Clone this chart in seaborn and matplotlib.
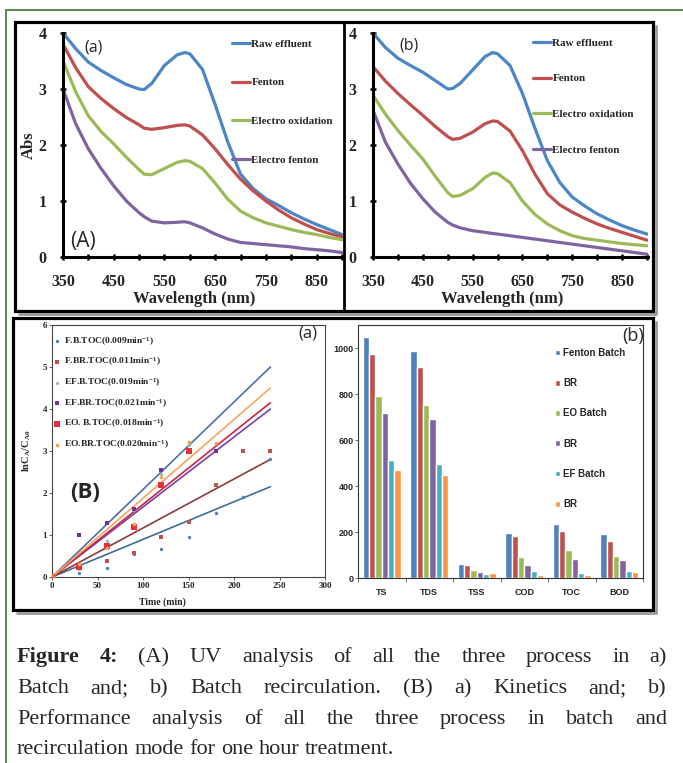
import matplotlib
matplotlib.use("Agg")
import matplotlib.pyplot as plt
import numpy as np
import pandas as pd
import seaborn as sns
from matplotlib.lines import Line2D
from matplotlib.patches import Rectangle
from matplotlib.ticker import FixedLocator

W, H = 683, 763
SERIF = "Liberation Serif"
SANS = "Liberation Sans"
LABEL_FONT = "Open Sans"

# ---- UV spectra (Abs vs wavelength) ----
wavelength = [350, 375, 400, 425, 450, 475, 500, 510, 525, 550, 575, 590, 600,
              625, 650, 675, 700, 725, 750, 775, 800, 825, 850, 875, 900]
raw_batch = [4.0, 3.72, 3.48, 3.33, 3.2, 3.08, 3.0, 2.99, 3.1, 3.42, 3.61, 3.65, 3.63,
             3.35, 2.72, 2.05, 1.48, 1.22, 1.04, 0.92, 0.79, 0.68, 0.58, 0.49, 0.40]
fenton_batch_uv = [3.8, 3.38, 3.04, 2.83, 2.65, 2.49, 2.36, 2.3, 2.28, 2.31, 2.35, 2.36, 2.34,
                   2.18, 1.93, 1.65, 1.39, 1.18, 1.0, 0.84, 0.70, 0.59, 0.49, 0.42, 0.36]
eo_batch_uv = [3.5, 2.95, 2.52, 2.24, 2.02, 1.78, 1.56, 1.48, 1.47, 1.58, 1.69, 1.72, 1.71,
               1.58, 1.32, 1.03, 0.82, 0.70, 0.61, 0.55, 0.49, 0.44, 0.40, 0.35, 0.31]
ef_batch_uv = [3.0, 2.38, 1.93, 1.58, 1.27, 1.0, 0.79, 0.72, 0.64, 0.61, 0.62, 0.63, 0.61,
               0.52, 0.41, 0.32, 0.26, 0.24, 0.22, 0.20, 0.18, 0.15, 0.13, 0.11, 0.08]

raw_recirc = [4.0, 3.74, 3.55, 3.42, 3.3, 3.15, 3.0, 3.01, 3.1, 3.34, 3.58, 3.65, 3.63,
              3.42, 2.92, 2.3, 1.72, 1.33, 1.07, 0.91, 0.77, 0.66, 0.56, 0.48, 0.41]
fenton_recirc_uv = [3.4, 3.14, 2.92, 2.72, 2.53, 2.33, 2.15, 2.1, 2.12, 2.23, 2.38, 2.43, 2.42,
                    2.25, 1.9, 1.48, 1.13, 0.93, 0.80, 0.69, 0.59, 0.51, 0.44, 0.37, 0.30]
eo_recirc_uv = [2.89, 2.55, 2.26, 2.0, 1.75, 1.44, 1.15, 1.08, 1.1, 1.22, 1.42, 1.5, 1.49,
                1.33, 1.0, 0.76, 0.59, 0.47, 0.38, 0.33, 0.30, 0.27, 0.24, 0.22, 0.20]
ef_recirc_uv = [2.62, 2.05, 1.66, 1.32, 1.04, 0.8, 0.62, 0.57, 0.52, 0.47, 0.44, 0.42, 0.41,
                0.38, 0.35, 0.32, 0.29, 0.26, 0.23, 0.20, 0.17, 0.14, 0.11, 0.08, 0.05]

uv_labels = ["Raw effluent", "Fenton", "Electro oxidation", "Electro fenton"]
uv_colors = ["#4a86c8", "#c0504d", "#9bbb59", "#8064a2"]

# ---- kinetics ----
kin_time = [0, 30, 60, 90, 120, 150, 180, 210, 240]
fb_toc = [0, 0.10, 0.22, 0.55, 0.67, 0.96, 1.52, 1.90, 2.80]
fbr_toc = [0, 0.24, 0.38, 0.58, 0.96, 1.30, 2.20, 3.00, 3.00]
efb_toc = [0, 0.20, 0.85, 1.60, 2.45, 3.15, 3.20, np.nan, np.nan]
efbr_toc = [0, 1.00, 1.28, 1.63, 2.55, 3.00, 3.00, np.nan, np.nan]
eob_toc = [0, 0.25, 0.73, 1.20, 2.20, 3.00, np.nan, np.nan, np.nan]
eobr_toc = [0, 0.30, 0.70, 1.27, 2.38, 3.22, 3.20, np.nan, np.nan]
kin_series = [fb_toc, fbr_toc, efb_toc, efbr_toc, eob_toc, eobr_toc]
kin_labels = ["F.B.TOC(0.009min$^{-1}$)", "F.BR.TOC(0.011min$^{-1}$)",
              "EF.B.TOC(0.019min$^{-1}$)", "EF.BR.TOC(0.021min$^{-1}$)",
              "EO. B.TOC(0.018min$^{-1}$)", "EO.BR.TOC(0.020min$^{-1}$)"]
fit_time = [0, 240]
fit_end = [2.15, 2.80, 5.00, 4.00, 4.15, 4.50]
kin_marker_colors = ["#4f81bd", "#c0504d", "#93b4b8", "#7030a0", "#e8303c", "#f5a04a"]
kin_line_colors = ["#3a6f96", "#8c3b3b", "#4a70aa", "#7a40b0", "#c8283c", "#f5a65b"]
kin_markers = ["o", "s", "o", "s", "s", "o"]
kin_sizes = [6, 12, 5, 10, 14, 7]

# ---- performance ----
params = ["TS", "TDS", "TSS", "COD", "TOC", "BOD"]
fenton_batch = [1050, 988, 61, 196, 235, 191]
fenton_br = [974, 916, 55, 184, 203, 162]
eo_batch = [790, 754, 36, 91, 123, 94]
eo_br = [717, 691, 28, 55, 83, 77]
ef_batch = [514, 496, 19, 29, 22, 32]
ef_br = [468, 446, 22, 14, 12, 26]
bar_keys = ["Fenton Batch", "Fenton BR", "EO Batch", "EO BR", "EF Batch", "EF BR"]
bar_labels = ["Fenton Batch", "BR", "EO Batch", "BR", "EF Batch", "BR"]
bar_colors = ["#4f81bd", "#c0504d", "#9bbb59", "#8064a2", "#4bacc6", "#f79646"]

caption = [
    [("Figure", True), ("4:", True), ("(A)", False), ("UV", False), ("analysis", False),
     ("of", False), ("all", False), ("the", False), ("three", False), ("process", False),
     ("in", False), ("a)", False)],
    [(w, False) for w in "Batch and; b) Batch recirculation. (B) a) Kinetics and; b)".split()],
    [(w, False) for w in "Performance analysis of all the three process in batch and".split()],
    [(w, False) for w in "recirculation mode for one hour treatment.".split()],
]

sns.set_theme(style="white")
plt.rcParams["font.family"] = [SERIF, "DejaVu Serif"]
plt.rcParams["mathtext.fontset"] = "custom"
plt.rcParams["mathtext.rm"] = SERIF + ":bold"
plt.rcParams["mathtext.it"] = SERIF + ":bold"
plt.rcParams["mathtext.bf"] = SERIF + ":bold"

fig = plt.figure(figsize=(W / 100, H / 100), dpi=100)
fig.patch.set_facecolor("white")


def px_axes(l, t, r, b):
    return fig.add_axes([l / W, 1 - b / H, (r - l) / W, (b - t) / H])


def fig_line(xs, ys, **kw):
    fig.add_artist(Line2D([x / W for x in xs], [1 - y / H for y in ys],
                          transform=fig.transFigure, **kw))


def uv_panel(ax, series, legend_xy, spacing, show_ylabel):
    rows = [(w, v, lab) for lab, vals in zip(uv_labels, series)
            for w, v in zip(wavelength, vals)]
    df = pd.DataFrame(rows, columns=["wl", "abs", "sample"])
    sns.lineplot(data=df, x="wl", y="abs", hue="sample", hue_order=uv_labels,
                 palette=uv_colors, lw=2.3, estimator=None, sort=False, ax=ax)
    ax.set_xlim(350, 902)
    ax.set_ylim(0, 4)
    ax.xaxis.set_major_locator(FixedLocator(range(350, 901, 100)))
    ax.xaxis.set_minor_locator(FixedLocator(range(400, 901, 100)))
    ax.set_yticks(range(0, 5))
    for s in ["top", "right"]:
        ax.spines[s].set_visible(False)
    for s in ["left", "bottom"]:
        ax.spines[s].set_color("black")
        ax.spines[s].set_linewidth(2.2)
    ax.tick_params(which="both", direction="inout", length=5, width=1.8,
                   color="black", pad=9.5, bottom=True, left=True)
    for lab in ax.get_xticklabels() + ax.get_yticklabels():
        lab.set_fontsize(11.5)
        lab.set_fontweight("bold")
        lab.set_family(SERIF)
    ax.set_xlabel("Wavelength (nm)", fontsize=12, fontweight="bold", family=SERIF)
    ax.xaxis.set_label_coords(0.47, -0.15)
    if show_ylabel:
        ax.set_ylabel("Abs", fontsize=12, fontweight="bold", family=SERIF)
        ax.yaxis.set_label_coords(-0.095, 0.5)
    else:
        ax.set_ylabel("")
    ax.legend(loc="upper left", bbox_to_anchor=(legend_xy[0] / W, 1 - legend_xy[1] / H),
              bbox_transform=fig.transFigure, frameon=False, borderpad=0,
              borderaxespad=0, handlelength=1.6, handletextpad=0.15,
              labelspacing=spacing,
              prop=dict(family=SERIF, weight="bold", size=8))


# ---------- top UV panels ----------
ax_a = px_axes(63, 33, 343, 257)
uv_panel(ax_a, [raw_batch, fenton_batch_uv, eo_batch_uv, ef_batch_uv], (232, 39), 2.6, True)
fig.text(70 / W, 1 - 242 / H, "(A)", fontsize=15, family=LABEL_FONT, va="center")
fig.text(84 / W, 1 - 47 / H, "(a)", fontsize=11.5, family=LABEL_FONT, va="center")

ax_b = px_axes(373, 33, 648, 257)
uv_panel(ax_b, [raw_recirc, fenton_recirc_uv, eo_recirc_uv, ef_recirc_uv], (533, 38), 2.33, False)
fig.text(399 / W, 1 - 46 / H, "(b)", fontsize=11.5, family=LABEL_FONT, va="center")

# ---------- kinetics ----------
ax_k = px_axes(52, 325, 325, 577)
for vals, lab, mc, mk, sz in zip(kin_series, kin_labels, kin_marker_colors, kin_markers, kin_sizes):
    df = pd.DataFrame({"time": kin_time, "toc": vals}).dropna()
    sns.scatterplot(data=df, x="time", y="toc", color=mc, marker=mk, s=sz,
                    linewidth=0, label=lab, ax=ax_k, zorder=3)
for end, lc in zip(fit_end, kin_line_colors):
    df = pd.DataFrame({"time": fit_time, "toc": [0, end]})
    sns.lineplot(data=df, x="time", y="toc", color=lc, lw=1.2, legend=False, ax=ax_k)
ax_k.scatter([0], [0], s=14, color="#e07a3a", zorder=4)
ax_k.set_xlim(0, 300)
ax_k.set_ylim(0, 6)
ax_k.set_xticks(range(0, 301, 50))
ax_k.set_yticks(range(0, 7))
for s in ax_k.spines.values():
    s.set_color("#444444")
    s.set_linewidth(0.8)
ax_k.tick_params(direction="out", length=2, width=0.6, color="#444444", pad=1.5,
                 bottom=True, left=True)
for lab in ax_k.get_xticklabels() + ax_k.get_yticklabels():
    lab.set_fontsize(6.5)
    lab.set_fontweight("bold")
ax_k.set_xlabel("Time (min)", fontsize=7, fontweight="bold")
ax_k.xaxis.set_label_coords(0.405, -0.082)
ax_k.set_ylabel("lnC$_{\\mathrm{A}}$/C$_{\\mathrm{A0}}$", fontsize=7.5, fontweight="bold")
ax_k.yaxis.set_label_coords(-0.07, 0.5)
ax_k.legend(loc="upper left", bbox_to_anchor=(55 / W, 1 - 335 / H),
            bbox_transform=fig.transFigure, frameon=False, borderpad=0,
            borderaxespad=0, handlelength=0.5, handletextpad=0.4,
            labelspacing=0.85, markerscale=1.0,
            prop=dict(family=SERIF, weight="bold", size=6.8))
fig.text(298 / W, 1 - 334 / H, "(a)", fontsize=12, family=LABEL_FONT, va="center")
fig.text(70 / W, 1 - 492 / H, "(B)", fontsize=16, family=LABEL_FONT, va="center",
         fontweight="bold")

# ---------- performance bars ----------
ax_p = px_axes(358, 325, 643, 578)
rows = [(p, k, v) for k, vals in zip(bar_keys, [fenton_batch, fenton_br, eo_batch, eo_br, ef_batch, ef_br])
        for p, v in zip(params, vals)]
bars = pd.DataFrame(rows, columns=["param", "process", "value"])
sns.barplot(data=bars, x="param", y="value", hue="process", hue_order=bar_keys,
            palette=bar_colors, saturation=1, width=0.8, ax=ax_p)
ax_p.set_ylim(0, 1100)
ax_p.set_xlim(-0.5, 5.5)
ax_p.set_yticks(range(0, 1001, 200))
ax_p.xaxis.set_minor_locator(FixedLocator(np.arange(-0.5, 6, 1.0)))
for s in ax_p.spines.values():
    s.set_color("#333333")
    s.set_linewidth(0.8)
ax_p.tick_params(axis="x", which="major", length=0, pad=7)
ax_p.tick_params(axis="x", which="minor", direction="out", length=3, width=0.6,
                 color="#555555", bottom=True)
ax_p.tick_params(axis="y", direction="out", length=2, width=0.6, color="#555555",
                 pad=1, left=True)
for lab in ax_p.get_xticklabels() + ax_p.get_yticklabels():
    lab.set_fontsize(6.5)
    lab.set_fontweight("bold")
    lab.set_family(SANS)
ax_p.set_xlabel("")
ax_p.set_ylabel("")
handles, _ = ax_p.get_legend_handles_labels()
ax_p.legend(handles, bar_labels, loc="upper left",
            bbox_to_anchor=(555 / W, 1 - 348 / H), bbox_transform=fig.transFigure,
            frameon=False, borderpad=0, borderaxespad=0, handlelength=0.55,
            handleheight=0.55, handletextpad=0.3, labelspacing=2.08,
            prop=dict(family=SANS, weight="bold", size=7))
fig.text(622 / W, 1 - 336 / H, "(b)", fontsize=13, family=LABEL_FONT, va="center")

# ---------- frames ----------
fig_line([6, 6], [10, H], color="#4e7d3c", lw=1.3)
fig_line([6, W], [10, 10], color="#4e7d3c", lw=1.3)
for (l, t, r, b) in [(15, 22, 653, 311), (13, 318, 653, 610)]:
    fig_line([r + 3, r + 3, l + 4], [t + 4, b + 3, b + 3], color="#9a9a9a", lw=2.0)
    fig.add_artist(Rectangle((l / W, 1 - b / H), (r - l) / W, (b - t) / H,
                             transform=fig.transFigure, fill=False, lw=2.3, ec="black"))
fig_line([344, 344], [22, 311], color="black", lw=2.0)

# ---------- caption (justified, word by word) ----------
renderer = fig.canvas.get_renderer()
cap_x0, cap_x1 = 17, 667
cap_baseline = [662, 693, 724, 754]
cap_size = 16
for i, (words, y) in enumerate(zip(caption, cap_baseline)):
    texts = [fig.text(0, 1 - y / H, w, fontsize=cap_size, family=SERIF,
                      fontweight="bold" if bold else "normal", va="baseline", ha="left")
             for w, bold in words]
    widths = [t.get_window_extent(renderer).width for t in texts]
    if i < len(caption) - 1:
        gap = (cap_x1 - cap_x0 - sum(widths)) / (len(texts) - 1)
    else:
        gap = cap_size * 1.39 * 0.25
    x = cap_x0
    for t, wd in zip(texts, widths):
        t.set_x(x / W)
        x += wd + gap

fig.savefig("out.png", dpi=100)
